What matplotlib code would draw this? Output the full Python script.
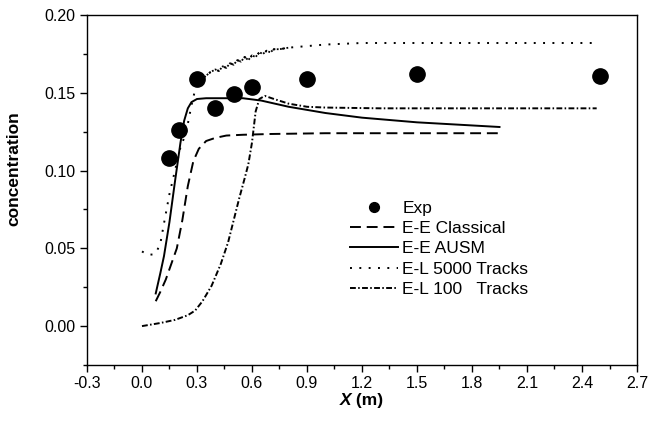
"""
Concentration along the channel: experiment vs E-E and E-L models.
"""

import matplotlib
matplotlib.use("Agg")
import matplotlib.pyplot as plt
from matplotlib.ticker import MultipleLocator

plt.rcParams["font.family"] = ["Liberation Sans", "DejaVu Sans"]

# experimental points
exp_x = [0.15, 0.20, 0.30, 0.40, 0.50, 0.60, 0.90, 1.50, 2.50]
exp_y = [0.108, 0.126, 0.159, 0.140, 0.149, 0.154, 0.159, 0.162, 0.161]

# E-E classical
ee_cls_x = [0.075, 0.10, 0.13, 0.16, 0.19, 0.22, 0.25, 0.28, 0.31, 0.35, 0.40,
            0.46, 0.55, 0.70, 1.00, 1.40, 1.95]
ee_cls_y = [0.016, 0.022, 0.030, 0.040, 0.050, 0.068, 0.090, 0.106, 0.114, 0.119,
            0.121, 0.1225, 0.123, 0.1235, 0.124, 0.124, 0.124]

# E-E AUSM
ee_ausm_x = [0.075, 0.10, 0.12, 0.15, 0.18, 0.21, 0.23, 0.25, 0.27, 0.30, 0.35,
             0.45, 0.55, 0.65, 0.80, 1.00, 1.20, 1.50, 1.80, 1.95]
ee_ausm_y = [0.021, 0.034, 0.045, 0.067, 0.093, 0.118, 0.132, 0.140, 0.144, 0.146,
             0.1465, 0.1465, 0.1465, 0.145, 0.141, 0.137, 0.134, 0.131, 0.129, 0.128]

# E-L 5000 tracks (noisy band typed point by point)
el5000_x = [0.00, 0.03, 0.06, 0.08, 0.10, 0.12, 0.15, 0.18, 0.21, 0.24, 0.27,
            0.29, 0.31, 0.34, 0.37, 0.40, 0.42, 0.44, 0.46, 0.48, 0.50, 0.52,
            0.54, 0.56, 0.58, 0.60, 0.62, 0.64, 0.66, 0.68, 0.70, 0.72, 0.75,
            0.80, 0.90, 1.00, 1.20, 1.50, 2.00, 2.48]
el5000_y = [0.048, 0.046, 0.046, 0.048, 0.053, 0.066, 0.085, 0.100, 0.115, 0.124,
            0.142, 0.152, 0.157, 0.160, 0.163, 0.165, 0.164, 0.167, 0.166, 0.169,
            0.168, 0.171, 0.170, 0.173, 0.171, 0.174, 0.173, 0.176, 0.175, 0.177,
            0.176, 0.178, 0.178, 0.179, 0.180, 0.181, 0.182, 0.182, 0.182, 0.182]

# E-L 100 tracks
el100_x = [0.00, 0.05, 0.10, 0.18, 0.25, 0.29, 0.33, 0.38, 0.43, 0.47, 0.50,
           0.53, 0.56, 0.58, 0.60, 0.62, 0.64, 0.67, 0.72, 0.80, 0.90, 1.00,
           1.30, 1.80, 2.48]
el100_y = [0.000, 0.001, 0.002, 0.004, 0.007, 0.010, 0.016, 0.026, 0.040, 0.054,
           0.068, 0.082, 0.095, 0.104, 0.118, 0.138, 0.146, 0.148, 0.146, 0.143,
           0.141, 0.1405, 0.140, 0.140, 0.140]

fig = plt.figure(figsize=(6.53, 4.26), dpi=100)
ax = fig.add_axes([0.1332, 0.1432, 0.8423, 0.8216])

lw = 1.4
ax.plot(exp_x, exp_y, "o", color="black", markersize=11, label="Exp")
ax.plot(ee_cls_x, ee_cls_y, color="black", linewidth=lw,
        dashes=(5.6, 3.0), label="E-E Classical")
ax.plot(ee_ausm_x, ee_ausm_y, color="black", linewidth=lw, label="E-E AUSM")
ax.plot(el5000_x, el5000_y, color="black", linewidth=lw,
        dashes=(1.0, 3.8), label="E-L 5000 Tracks")
# the noisy stretch of the 5000-track run looks almost solid in the original
ax.plot(el5000_x[13:34], el5000_y[13:34], color="black", linewidth=1.3,
        dashes=(1.0, 0.8))
ax.plot(el100_x, el100_y, color="black", linewidth=lw,
        dashes=(3.0, 1.2, 0.8, 1.2), label="E-L 100   Tracks")

ax.set_xlim(-0.3, 2.7)
ax.set_ylim(-0.025, 0.20)
ax.xaxis.set_major_locator(MultipleLocator(0.3))
ax.xaxis.set_minor_locator(MultipleLocator(0.15))
ax.yaxis.set_major_locator(MultipleLocator(0.05))
ax.yaxis.set_minor_locator(MultipleLocator(0.025))
ax.xaxis.set_major_formatter(plt.FuncFormatter(lambda v, p: f"{v:.1f}"))
ax.yaxis.set_major_formatter(plt.FuncFormatter(lambda v, p: f"{v:.2f}"))
ax.tick_params(which="major", direction="out", length=5, width=1,
               labelsize=11.5, pad=3)
ax.tick_params(which="minor", direction="out", length=3, width=1)
for s in ax.spines.values():
    s.set_linewidth(1.0)

ax.set_ylabel("concentration", fontsize=12.5, fontweight="bold")
ax.yaxis.set_label_coords(-0.12, 0.56)

# x label: italic bold X followed by bold unit
fig.text(0.538, 0.061, "X", fontsize=12.5, fontweight="bold", style="italic",
         ha="right", va="center")
fig.text(0.538, 0.061, " (m)", fontsize=12.5, fontweight="bold",
         ha="left", va="center")

ax.legend(loc="upper left", bbox_to_anchor=(0.478, 0.47), frameon=False,
          fontsize=12.5, handlelength=2.76, handletextpad=0.25,
          labelspacing=0.3, markerscale=0.64, borderpad=0, borderaxespad=0)

fig.savefig("out.png", dpi=100)
